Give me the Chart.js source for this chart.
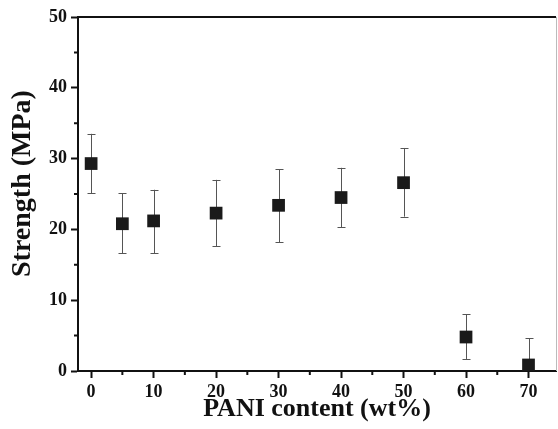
<!DOCTYPE html>
<html>
<head>
<meta charset="utf-8">
<title>Strength vs PANI content</title>
<script src="https://cdn.jsdelivr.net/npm/chart.js@4/dist/chart.umd.min.js"></script>
<style>
  html, body { margin: 0; padding: 0; background: #fff; }
  #wrap { width: 558px; height: 429px; }
</style>
</head>
<body>
<div id="wrap"><canvas id="strengthChart" width="558" height="429"></canvas></div>
<script>
'use strict';

// PANI content (wt%) and measured strength (MPa)
var PANI_WT = [0, 5, 10, 20, 30, 40, 50, 60, 70];
var STRENGTH = [29.3, 20.8, 21.2, 22.3, 23.4, 24.5, 26.6, 4.8, 0.85];
var ERR_HIGH = [33.5, 25.1, 25.6, 27.0, 28.5, 28.7, 31.5, 8.0, 4.6];
var ERR_LOW = [25.1, 16.6, 16.6, 17.6, 18.2, 20.3, 21.8, 1.7, null];
var X_MINOR = [5, 15, 25, 35, 45, 55, 65];
var Y_MINOR = [5, 15, 25, 35, 45];

var SERIF = '"Liberation Serif", "DejaVu Serif", serif';

var points = PANI_WT.map(function (x, i) { return { x: x, y: STRENGTH[i] }; });

// error bars, minor ticks and frame drawn with the chart's own scales
var extras = {
  id: 'extras',
  beforeDatasetsDraw: function (chart) {
    var ctx = chart.ctx, xs = chart.scales.x, ys = chart.scales.y;
    ctx.save();
    ctx.strokeStyle = '#555';
    ctx.lineWidth = 1;
    PANI_WT.forEach(function (x, i) {
      var px = Math.round(xs.getPixelForValue(x)) + 0.5;
      var pc = ys.getPixelForValue(STRENGTH[i]);
      var ph = ys.getPixelForValue(ERR_HIGH[i]);
      ctx.beginPath();
      ctx.moveTo(px, pc); ctx.lineTo(px, ph);
      ctx.moveTo(px - 4, Math.round(ph) + 0.5); ctx.lineTo(px + 4, Math.round(ph) + 0.5);
      if (ERR_LOW[i] !== null) {
        var pl = ys.getPixelForValue(ERR_LOW[i]);
        ctx.moveTo(px, pc); ctx.lineTo(px, pl);
        ctx.moveTo(px - 4, Math.round(pl) + 0.5); ctx.lineTo(px + 4, Math.round(pl) + 0.5);
      }
      ctx.stroke();
    });
    ctx.restore();
  },
  afterDraw: function (chart) {
    var ctx = chart.ctx, xs = chart.scales.x, ys = chart.scales.y, a = chart.chartArea;
    ctx.save();
    ctx.strokeStyle = '#111';
    ctx.lineWidth = 2;
    ctx.beginPath();
    X_MINOR.forEach(function (v) {
      var px = xs.getPixelForValue(v);
      ctx.moveTo(px, a.bottom); ctx.lineTo(px, a.bottom + 4);
    });
    Y_MINOR.forEach(function (v) {
      var py = ys.getPixelForValue(v);
      ctx.moveTo(a.left, py); ctx.lineTo(a.left - 4, py);
    });
    // top frame line
    ctx.moveTo(a.left - 1, a.top); ctx.lineTo(a.right, a.top);
    ctx.stroke();
    ctx.strokeStyle = '#bbb';
    ctx.lineWidth = 1;
    ctx.beginPath();
    ctx.moveTo(a.right + 0.5, a.top); ctx.lineTo(a.right + 0.5, a.bottom);
    ctx.stroke();
    ctx.restore();
  }
};

new Chart(document.getElementById('strengthChart'), {
  type: 'scatter',
  data: {
    datasets: [{
      label: 'Strength',
      data: points,
      pointStyle: 'rect',
      pointRadius: 9,
      pointHoverRadius: 9,
      backgroundColor: '#1a1a1a',
      borderColor: '#1a1a1a',
      borderWidth: 0
    }]
  },
  options: {
    responsive: false,
    animation: false,
    layout: { autoPadding: false, padding: { left: 0, right: 2, top: 17, bottom: 0 } },
    plugins: { legend: { display: false }, tooltip: { enabled: false } },
    scales: {
      x: {
        type: 'linear',
        min: -2.1,
        max: 74.4,
        afterFit: function (s) { s.height = 58; },
        border: { display: true, color: '#111', width: 2 },
        grid: { drawOnChartArea: false, drawTicks: true, tickLength: 7, tickColor: '#111', tickWidth: 2 },
        ticks: {
          stepSize: 10,
          includeBounds: false,
          padding: 4,
          color: '#111',
          font: { family: SERIF, size: 18, weight: 'bold' }
        },
        title: {
          display: true,
          text: 'PANI content (wt%)',
          color: '#111',
          padding: { top: 0, bottom: 4 },
          font: { family: SERIF, size: 26, weight: 'bold' }
        }
      },
      y: {
        type: 'linear',
        min: 0,
        max: 50,
        afterFit: function (s) { s.width = 78; },
        border: { display: true, color: '#111', width: 2 },
        grid: { drawOnChartArea: false, drawTicks: true, tickLength: 7, tickColor: '#111', tickWidth: 2 },
        ticks: {
          stepSize: 10,
          padding: 4,
          color: '#111',
          font: { family: SERIF, size: 18, weight: 'bold' }
        },
        title: {
          display: true,
          // leading spaces nudge the rotated title upward, as in the original
          text: '   Strength (MPa)',
          color: '#111',
          padding: { top: 6, bottom: 0 },
          font: { family: SERIF, size: 28, weight: 'bold' }
        }
      }
    }
  },
  plugins: [extras]
});
</script>
</body>
</html>
